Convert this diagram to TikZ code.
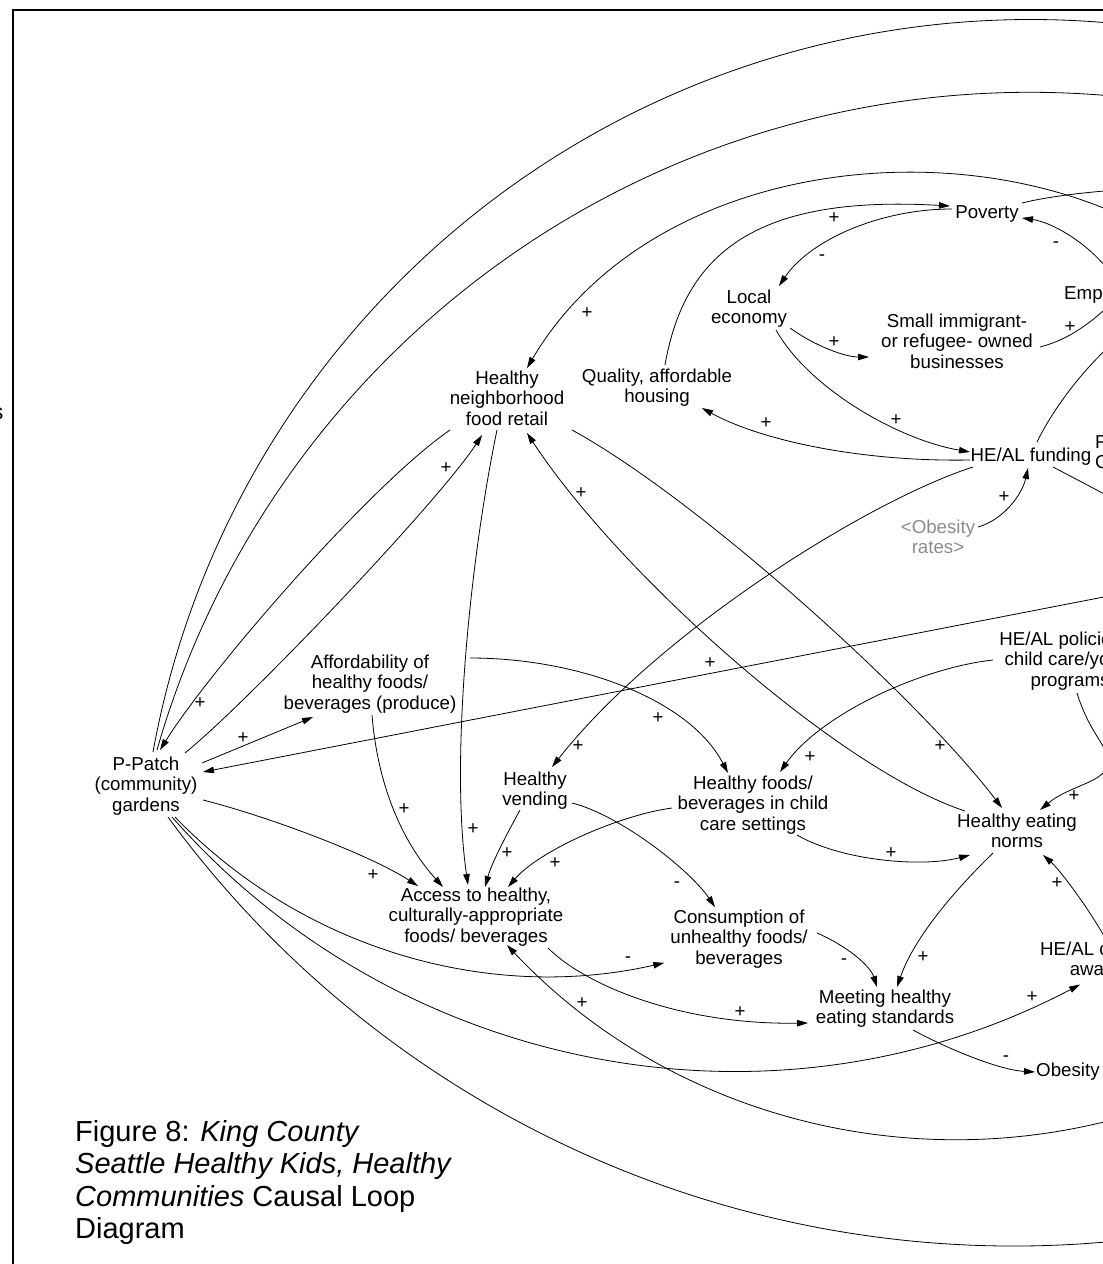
\documentclass[tikz,border=0pt]{standalone}
\usepackage{fontspec}
\setmainfont{Liberation Sans}
\usetikzlibrary{arrows.meta,calc}
\definecolor{refgray}{RGB}{140,140,140}
\newcommand{\cldfont}{\fontsize{18.7}{20.5}\selectfont}
\newcommand{\capfont}{\fontsize{29}{32.5}\selectfont}

\begin{document}
\begin{tikzpicture}[x=1pt,y=-1pt,
  var/.style={font=\cldfont, align=center, inner sep=0pt,
              execute at begin node=\strut, execute at end node=\strut},
  polsign/.style={font=\cldfont, inner sep=0pt},
  link/.style={line width=0.8pt, -{Triangle[length=11pt,width=6.5pt]}},
  tail/.style={line width=0.8pt}]

\useasboundingbox (0,0) rectangle (1103,1264);

% frame
\draw[line width=2pt] (12.5,1270) -- (12.5,9.5) -- (1110,9.5);
\node[font=\fontsize{22}{26}\selectfont, anchor=east, inner sep=0pt] (cuts) at (3.5,414) {s};

% variables
\node[var] (pov) at (987,214) {Poverty};
\node[var] (loc) at (749,310) {Local\\economy};
\node[var] (small) at (957,344) {Small immigrant-\\or refugee- owned\\businesses};
\node[var] (qual) at (657,389) {Quality, affordable\\housing};
\node[var] (hnfr) at (507,401) {Healthy\\neighborhood\\food retail};
\node[var] (fund) at (1031,457) {HE/AL funding};
\node[var, text=refgray] (obr) at (938,540) {<Obesity\\rates>};
\node[var, anchor=west] (emp) at (1064,295) {Emp};
\node[var, anchor=west, align=left] (fc) at (1095,455) {F\\C};
\node[var] (afford) at (370,685) {Affordability of\\healthy foods/\\beverages (produce)};
\node[var] (pol) at (1070,662) {HE/AL policie\phantom{s in}\\child care/yo\phantom{uth}\\programs};
\node[var] (ppatch) at (146,787) {P-Patch\\(community)\\gardens};
\node[var] (vend) at (535,792) {Healthy\\vending};
\node[var] (hfcc) at (753,806) {Healthy foods/\\beverages in child\\care settings};
\node[var] (norms) at (1017,834) {Healthy eating\\norms};
\node[var] (access) at (476,918) {Access to healthy,\\culturally-appropriate\\foods/ beverages};
\node[var] (cons) at (739,940) {Consumption of\\unhealthy foods/\\beverages};
\node[var] (heal) at (1115,962) {HE/AL c\phantom{ommunity}\\awa\phantom{reness}};
\node[var] (meet) at (885,1010) {Meeting healthy\\eating standards};
\node[var, anchor=west] (obes) at (1036,1072) {Obesity};

% off-page ends
\coordinate (offA) at (1160,188);
\coordinate (offB) at (1130,285);
\coordinate (offC) at (1135,325);
\coordinate (offD) at (1150,518);
\coordinate (offE) at (1150,230);
\coordinate (offF) at (1150,588);
\coordinate (offG) at (1169.1,1102.2);
\coordinate (polbend) at (1108,762);

% upper loop
\draw[link] ($(qual)+(8,-24)$) .. controls (685,250) and (760,195) .. ($(pov)+(-37,-8)$);
\draw[link] ($(pov)+(-35,-5)$) .. controls (880,209) and (810,240) .. ($(loc)+(30,-24)$);
\draw[link] ($(emp.west)+(46,-23)$) .. controls (1085,240) and (1050,222) .. ($(pov)+(35,4)$);
\draw[link] ($(pov)+(35,-11)$) .. controls (1050,196) and (1100,190) .. (offA);
\draw[link] ($(loc)+(41,18)$) .. controls (815,346) and (845,357) .. ($(small)+(-88,13)$);
\draw[link] ($(loc)+(27,20)$) .. controls (810,390) and (900,440) .. ($(fund)+(-61,-5)$);
\draw[link] ($(fund)+(-61,3)$) .. controls (860,462) and (760,440) .. ($(qual)+(45,19)$);
\draw[link] ($(small)+(83,3)$) .. controls (1075,338) and (1100,315) .. (offB);
\draw[link] ($(fund)+(6,-15)$) .. controls (1055,405) and (1090,360) .. (offC);
\draw[link] ($(fund)+(22,10)$) -- (offD);
\draw[link] ($(fund)+(-58,10)$) .. controls (870,500) and (660,630) .. ($(vend)+(17,-25)$);
\draw[link] ($(obr)+(40,-13)$) .. controls (1003,520) and (1022,495) .. ($(fund)+(-3,11)$);
\draw[link] (offE) .. controls (960,125) and (650,160) .. ($(hnfr)+(20,-33)$);

% large arcs from the gardens
\draw[tail] ($(ppatch)+(7,-35)$) arc[start angle=190.3, end angle=290, radius=892];
\draw[tail] ($(ppatch)+(11,-37)$) arc[start angle=196, end angle=290, radius=908];
\draw[tail] ($(ppatch)+(22,30)$) arc[start angle=143.8, end angle=75, radius=1047.8];
\draw[link] ($(ppatch)+(26,30)$) arc[start angle=138.6, end angle=62.3, radius=747.5];
\draw[link] ($(ppatch)+(29,30)$) arc[start angle=136, end angle=77.2, radius=520];
\draw[link] (offG) arc[start angle=70, end angle=136.7, radius=619];

% middle links
\draw[link] ($(ppatch)+(57,13)$) .. controls (270,817) and (370,855) .. ($(access)+(-58,-32)$);
\draw[link] ($(ppatch)+(56,-24)$) -- ($(afford)+(-57,32)$);
\draw[link] (offF) -- ($(ppatch)+(57,-15)$);
\draw[link] ($(ppatch)+(39,-34)$) .. controls (250,700) and (440,500) .. ($(hnfr)+(-25,34)$);
\draw[link] ($(hnfr)+(-57,29)$) .. controls (370,485) and (210,670) .. ($(ppatch)+(14,-37)$);
\draw[link] ($(hnfr)+(-10,29)$) .. controls (470,560) and (450,760) .. ($(access)+(-8,-33)$);
\draw[link] ($(afford)+(2,30)$) .. controls (378,790) and (405,845) .. ($(access)+(-33,-31)$);
\draw[link] ($(vend)+(-15,18)$) .. controls (508,832) and (492,862) .. ($(access)+(9,-31)$);
\draw[link] ($(hfcc)+(-81,2)$) .. controls (620,815) and (540,850) .. ($(access)+(32,-31)$);
\draw[link] ($(vend)+(37,11)$) .. controls (620,815) and (690,870) .. ($(cons)+(-24,-33)$);
\draw[link] ($(afford)+(100,-27)$) .. controls (580,658) and (690,700) .. ($(hfcc)+(-25,-33)$);
\draw[link] ($(pol)+(-77,-2)$) .. controls (920,668) and (820,715) .. ($(hfcc)+(27,-34)$);
\draw[link] ($(pol)+(7,31)$) .. controls (1090,735) and (1108,745) .. (polbend)
            .. controls (1108,782) and (1070,785) .. ($(norms)+(23,-24)$);
\draw[link] ($(hfcc)+(44,29)$) .. controls (840,860) and (920,868) .. ($(norms)+(-47,21)$);
\draw[link] ($(hnfr)+(65,29)$) .. controls (700,500) and (920,700) .. ($(norms)+(-15,-26)$);
\draw[link] ($(norms)+(-52,-23)$) .. controls (840,770) and (620,575) .. ($(hnfr)+(20,32)$);
\draw[link] ($(norms)+(-24,19)$) .. controls (960,885) and (915,935) .. ($(meet)+(12,-23)$);
\draw[link] ($(cons)+(78,-7)$) .. controls (845,945) and (870,965) .. ($(meet)+(-8,-23)$);
\draw[link] ($(access)+(72,30)$) .. controls (585,985) and (680,1025) .. ($(meet)+(-77,13)$);
\draw[link] ($(meet)+(28,20)$) .. controls (950,1050) and (1000,1070) .. ($(obes.west)+(-1,0)$);
\draw[link] ($(heal)+(-7,-19)$) .. controls (1090,910) and (1060,870) .. ($(norms)+(26,21)$);

% polarities
\node[polsign] (s1) at (834,218) {+};
\node[polsign] (s2) at (822,258) {-};
\node[polsign] (s3) at (1056,245) {-};
\node[polsign] (s4) at (834,342) {+};
\node[polsign] (s5) at (1070,327) {+};
\node[polsign] (s6) at (896,420) {+};
\node[polsign] (s7) at (766,423) {+};
\node[polsign] (s8) at (1004,497) {+};
\node[polsign] (s9) at (587,313) {+};
\node[polsign] (s10) at (446,468) {+};
\node[polsign] (s11) at (581,493) {+};
\node[polsign] (s12) at (200,703) {+};
\node[polsign] (s13) at (243,738) {+};
\node[polsign] (s14) at (578,746) {+};
\node[polsign] (s15) at (658,718) {+};
\node[polsign] (s16) at (710,663) {+};
\node[polsign] (s17) at (810,757) {+};
\node[polsign] (s18) at (940,746) {+};
\node[polsign] (s19) at (1074,796) {+};
\node[polsign] (s20) at (404,809) {+};
\node[polsign] (s21) at (473,829) {+};
\node[polsign] (s22) at (507,853) {+};
\node[polsign] (s23) at (555,863) {+};
\node[polsign] (s24) at (373,875) {+};
\node[polsign] (s25) at (677,885) {-};
\node[polsign] (s26) at (891,853) {+};
\node[polsign] (s27) at (1057,883) {+};
\node[polsign] (s28) at (923,957) {+};
\node[polsign] (s29) at (844,962) {-};
\node[polsign] (s30) at (628,960) {-};
\node[polsign] (s31) at (740,1012) {+};
\node[polsign] (s32) at (1032,997) {+};
\node[polsign] (s33) at (582,1003) {+};
\node[polsign] (s34) at (1006,1059) {-};

% caption
\node[font=\capfont, align=left, anchor=north west, inner sep=0pt,
      execute at begin node=\strut] (caption) at (75,1120.25)
  {Figure 8: \textit{King County}\\\textit{Seattle Healthy Kids, Healthy}\\\textit{Communities} Causal Loop\\Diagram};
\end{tikzpicture}
\end{document}
